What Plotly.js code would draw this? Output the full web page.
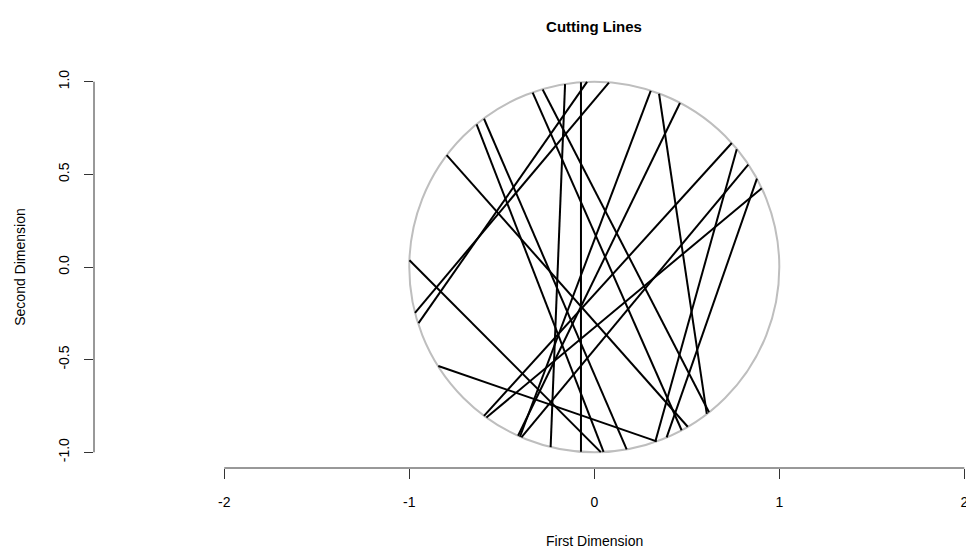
<!DOCTYPE html>
<html>
<head>
<meta charset="utf-8">
<script src="https://cdn.plot.ly/plotly-3.0.1.min.js"></script>
<style>
  html, body { margin: 0; padding: 0; background: #ffffff; }
  #chart { width: 966px; height: 551px; }
</style>
</head>
<body>
<div id="chart"></div>
<script>
// Cutting lines: start (x1, y1) and end (x2, y2) of each line
const lineIds = ["L01","L02","L03","L04","L05","L06","L07","L08","L09","L10",
                 "L11","L12","L13","L14","L15","L16","L17","L18","L19"];
const x1 = [-0.158, -0.072, -0.969, -0.950, -0.999, -0.636, -0.596, -0.798, -0.843, 0.770,
             0.879,  0.350, -0.333, -0.279,  0.305,  0.463,  0.832,  0.743,  0.905];
const y1 = [ 0.987,  0.997, -0.247, -0.303,  0.036,  0.770,  0.800,  0.604, -0.534, 0.636,
             0.477,  0.935,  0.941,  0.958,  0.951,  0.885,  0.553,  0.669,  0.425];
const x2 = [-0.236, -0.072,  0.079, -0.039,  0.035,  0.050,  0.175,  0.505,  0.337, 0.330,
             0.391,  0.608,  0.472,  0.620, -0.402, -0.412, -0.394, -0.596, -0.583];
const y2 = [-0.972, -0.997,  0.995,  0.999, -0.999, -0.998, -0.984, -0.862, -0.941, -0.942,
            -0.919, -0.793, -0.881, -0.784, -0.916, -0.911, -0.919, -0.803, -0.812];

// Axis ticks
const xTickVals = [-2, -1, 0, 1, 2];
const xTickText = ["-2", "-1", "0", "1", "2"];
const yTickVals = [-1, -0.5, 0, 0.5, 1];
const yTickText = ["-1.0", "-0.5", "0.0", "0.5", "1.0"];

// Titles
const mainTitle = "Cutting Lines";
const xTitle = "First Dimension";
const yTitle = "Second Dimension";

const FONT = "Liberation Sans, Arial, Helvetica, sans-serif";

// Build one path of segments separated by gaps
const lx = [], ly = [];
for (let i = 0; i < lineIds.length; i++) {
  lx.push(x1[i], x2[i], null);
  ly.push(y1[i], y2[i], null);
}

const traces = [{
  type: "scatter",
  mode: "lines",
  x: lx,
  y: ly,
  line: { color: "#000000", width: 2 },
  connectgaps: false,
  hoverinfo: "skip",
  showlegend: false
}];

const layout = {
  width: 966,
  height: 551,
  margin: { l: 94, r: 0, t: 66, b: 83, pad: 0 },
  paper_bgcolor: "#ffffff",
  plot_bgcolor: "#ffffff",
  showlegend: false,
  title: {
    text: "<b>" + mainTitle + "</b>",
    font: { family: FONT, size: 15, color: "#000000" },
    x: 594 / 966, xref: "container", xanchor: "center",
    y: 1 - 27 / 551, yref: "container", yanchor: "middle"
  },
  xaxis: {
    range: [-2.704, 2.009],
    tickvals: xTickVals,
    ticktext: xTickText,
    ticks: "outside",
    ticklen: 10,
    tickwidth: 1,
    tickcolor: "#333333",
    ticklabelstandoff: 11,
    ticklabeloverflow: "allow",
    showgrid: false,
    zeroline: false,
    showline: false,
    automargin: false,
    tickfont: { family: FONT, size: 14, color: "#000000" },
    title: { text: "" }
  },
  yaxis: {
    range: [-1.0847, 1.0847],
    tickvals: yTickVals,
    ticktext: yTickText,
    tickangle: -90,
    ticks: "outside",
    ticklen: 9,
    tickwidth: 1,
    tickcolor: "#333333",
    ticklabelstandoff: 9,
    showgrid: false,
    zeroline: false,
    showline: false,
    automargin: false,
    tickfont: { family: FONT, size: 14, color: "#000000" },
    title: { text: yTitle, font: { family: FONT, size: 14, color: "#000000" }, standoff: 27 }
  },
  annotations: [
    { text: xTitle, xref: "x", yref: "paper", x: 0, y: -0.1816,
      xanchor: "center", yanchor: "middle", showarrow: false,
      font: { family: FONT, size: 14, color: "#000000" } }
  ],
  shapes: [
    { type: "circle", xref: "x", yref: "y", x0: -1, x1: 1, y0: -1, y1: 1,
      line: { color: "#BEBEBE", width: 2 }, layer: "below" },
    { type: "line", xref: "x", yref: "paper", x0: xTickVals[0], x1: xTickVals[xTickVals.length - 1], y0: 0, y1: 0,
      line: { color: "#333333", width: 1 } },
    { type: "line", xref: "paper", yref: "y", x0: 0, x1: 0, y0: yTickVals[0], y1: yTickVals[yTickVals.length - 1],
      line: { color: "#333333", width: 1 } }
  ]
};

Plotly.newPlot("chart", traces, layout, { staticPlot: true, displayModeBar: false });
</script>
</body>
</html>
